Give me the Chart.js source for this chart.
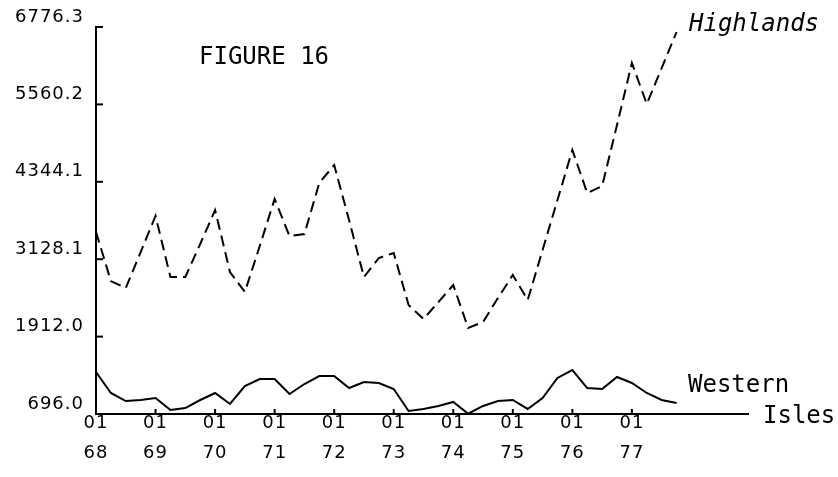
<!DOCTYPE html>
<html>
<head>
<meta charset="utf-8">
<script src="https://cdn.jsdelivr.net/npm/chart.js@4.4.1/dist/chart.umd.min.js"></script>
<style>
  html, body { margin: 0; padding: 0; background: #fff; }
  canvas { display: block; }
</style>
</head>
<body>
<canvas id="c" width="838" height="477"></canvas>
<script>
// Quarterly observations, 1968 Q1 .. 1977 Q4
const quarters = [
  '68Q1','68Q2','68Q3','68Q4','69Q1','69Q2','69Q3','69Q4',
  '70Q1','70Q2','70Q3','70Q4','71Q1','71Q2','71Q3','71Q4',
  '72Q1','72Q2','72Q3','72Q4','73Q1','73Q2','73Q3','73Q4',
  '74Q1','74Q2','74Q3','74Q4','75Q1','75Q2','75Q3','75Q4',
  '76Q1','76Q2','76Q3','76Q4','77Q1','77Q2','77Q3','77Q4'
];
const highlands = [
  3555, 2785, 2675, 3241, 3807, 2848, 2848, 3367,
  3901, 2927, 2613, 3335, 4074, 3492, 3524, 4325,
  4608, 3744, 2848, 3147, 3225, 2408, 2188, 2455,
  2722, 2047, 2141, 2518, 2880, 2487, 3272, 4058,
  4843, 4168, 4278, 5236, 6210, 5566, 6132, 6697
];
const westernIsles = [
  1356, 1026, 900, 916, 947, 759, 790, 916,
  1026, 853, 1136, 1246, 1246, 1010, 1167, 1293,
  1293, 1104, 1199, 1183, 1089, 743, 775, 822,
  885, 700, 822, 900, 916, 775, 947, 1262,
  1387, 1104, 1089, 1277, 1183, 1026, 916, 869
];
const yTickValues = [696.0, 1912.0, 3128.1, 4344.1, 5560.2, 6776.3];
const yearLabels = ['68','69','70','71','72','73','74','75','76','77'];
const monthLabel = '01';

const toPoints = arr => arr.map((v, i) => ({ x: i, y: v }));

const spacing = {
  id: 'spacing',
  beforeDraw(chart) { chart.ctx.letterSpacing = '1px'; },
  beforeDatasetsDraw(chart) { chart.ctx.letterSpacing = '0px'; }
};

const decor = {
  id: 'decor',
  afterDraw(chart) {
    const ctx = chart.ctx;
    const xs = chart.scales.x, ys = chart.scales.y;
    ctx.save();
    ctx.letterSpacing = '0px';
    ctx.strokeStyle = '#000';
    ctx.lineWidth = 2;
    ys.ticks.forEach(t => {
      const py = ys.getPixelForValue(t.value);
      ctx.beginPath();
      ctx.moveTo(xs.left, py);
      ctx.lineTo(xs.left + 7, py);
      ctx.stroke();
    });
    xs.ticks.forEach(t => {
      const px = xs.getPixelForValue(t.value);
      ctx.beginPath();
      ctx.moveTo(px, ys.bottom);
      ctx.lineTo(px, ys.bottom - 5);
      ctx.stroke();
    });
    ctx.fillStyle = '#000';
    ctx.textBaseline = 'middle';
    ctx.textAlign = 'left';
    ctx.font = '24px "DejaVu Sans Mono"';
    ctx.fillText('FIGURE 16', 199, 58);
    ctx.font = 'italic 24px "DejaVu Sans Mono"';
    ctx.fillText('Highlands', 689, 25);
    ctx.font = '24px "DejaVu Sans Mono"';
    ctx.fillText('Western', 688, 386);
    ctx.fillText('Isles', 763, 417);
    ctx.restore();
  }
};

new Chart(document.getElementById('c'), {
  type: 'line',
  data: {
    labels: quarters,
    datasets: [
      {
        label: 'Highlands',
        data: toPoints(highlands),
        borderColor: '#000',
        borderWidth: 2,
        borderDash: [11, 6],
        pointRadius: 0,
        tension: 0,
        fill: false
      },
      {
        label: 'Western Isles',
        data: toPoints(westernIsles),
        borderColor: '#000',
        borderWidth: 2,
        pointRadius: 0,
        tension: 0,
        fill: false
      }
    ]
  },
  options: {
    responsive: false,
    devicePixelRatio: 1,
    animation: false,
    layout: { padding: { top: 27, right: 90, left: 0, bottom: 0 } },
    plugins: { legend: { display: false }, tooltip: { enabled: false } },
    scales: {
      x: {
        type: 'linear',
        min: 0,
        max: 43.8,
        afterBuildTicks: s => { s.ticks = yearLabels.map((_, i) => ({ value: i * 4 })); },
        afterFit: s => { s.height = 63; },
        grid: { display: false, drawTicks: false },
        border: { display: true, color: '#000', width: 2 },
        ticks: {
          autoSkip: false,
          maxRotation: 0,
          padding: -6,
          color: '#000',
          font: { family: '"DejaVu Sans"', size: 18, lineHeight: 1.67 },
          callback: (v) => [monthLabel, yearLabels[Math.round(v / 4)]]
        }
      },
      y: {
        min: 696.0,
        max: 6776.3,
        afterBuildTicks: s => { s.ticks = yTickValues.map(v => ({ value: v })); },
        afterFit: s => { s.width = 96; },
        grid: { display: false, drawTicks: false },
        border: { display: true, color: '#000', width: 2 },
        ticks: {
          padding: 12,
          labelOffset: -10,
          color: '#000',
          font: { family: '"DejaVu Sans"', size: 18 },
          callback: (v) => Number(v).toFixed(1)
        }
      }
    }
  },
  plugins: [spacing, decor]
});
</script>
</body>
</html>
